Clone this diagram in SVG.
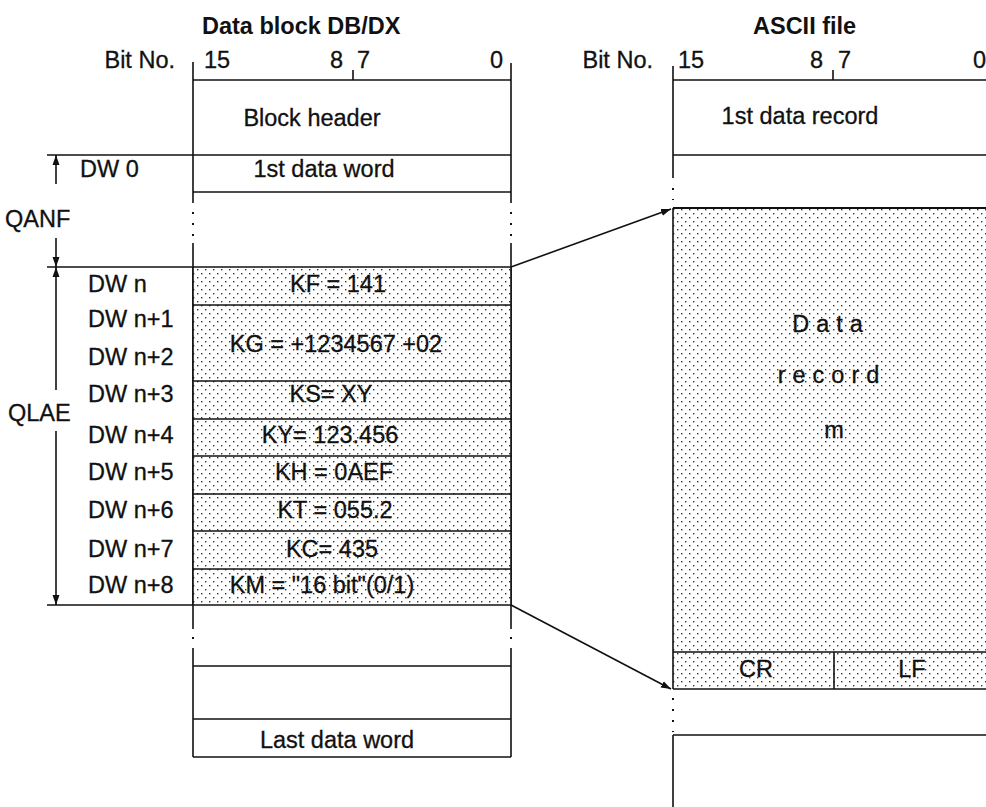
<svg xmlns="http://www.w3.org/2000/svg" width="986" height="807" viewBox="0 0 986 807">
<defs>
<pattern id="stip" width="8" height="8" patternUnits="userSpaceOnUse">
<rect width="8" height="8" fill="#fff"/>
<rect x="1" y="1" width="1.4" height="1.4" fill="#333"/>
<rect x="5" y="5" width="1.4" height="1.4" fill="#333"/>
</pattern>
<marker id="ah" viewBox="0 0 10 8" refX="10" refY="4" markerWidth="10" markerHeight="8" markerUnits="userSpaceOnUse" orient="auto">
<path d="M0,0.5 L10,4 L0,7.5 z" fill="#111"/>
</marker>
</defs>
<style>
text{font-family:"Liberation Sans",Arial,Helvetica,sans-serif;font-size:23.5px;fill:#111;stroke:#111;stroke-width:0.3px}
.t{font-weight:bold;stroke-width:0}
.c{text-anchor:middle}
.e{text-anchor:end}
.ln{stroke:#111;stroke-width:1.6;fill:none}
.bd{stroke:#111;stroke-width:2.2;fill:none}
.dt{stroke:#111;stroke-width:2;fill:none;stroke-dasharray:2 9}
.sp{letter-spacing:7px}
</style>

<g id="header-left">
<text class="t" x="202" y="34">Data block DB/DX</text>
<text class="e" x="175" y="68">Bit No.</text>
<text x="204" y="68">15</text>
<text class="e" x="343" y="68">8</text>
<text x="357" y="68">7</text>
<text class="e" x="503" y="68">0</text>
<line class="ln" x1="353" y1="70" x2="353" y2="80"/>
</g>

<g id="header-right">
<text class="t" x="753" y="34">ASCII file</text>
<text class="e" x="653" y="68">Bit No.</text>
<text x="678" y="68">15</text>
<text class="e" x="823" y="68">8</text>
<text x="838" y="68">7</text>
<text class="e" x="986" y="68">0</text>
<line class="ln" x1="833" y1="70" x2="833" y2="80"/>
</g>

<g id="left-frame">
<path class="ln" d="M193,62 V203 M193,243 V629 M193,648 V757 M511,63 V203 M511,243 V629 M511,648 V757"/>
<path class="dt" d="M193,212 V240 M511,212 V240 M193,637 V640 M511,637 V640"/>
</g>

<g id="block-header">
<line class="ln" x1="193" y1="80" x2="511" y2="80"/>
<text class="c" x="312" y="126">Block header</text>
</g>

<g id="dw0">
<line class="ln" x1="47" y1="155" x2="511" y2="155"/>
<line class="ln" x1="193" y1="192" x2="511" y2="192"/>
<text x="80" y="177">DW 0</text>
<text class="c" x="324" y="177">1st data word</text>
</g>

<g id="qlae-area">
<rect x="193" y="267" width="318" height="338" fill="url(#stip)"/>
<line class="ln" x1="47" y1="267" x2="511" y2="267"/>
<line class="ln" x1="193" y1="305" x2="511" y2="305"/>
<line class="ln" x1="193" y1="381" x2="511" y2="381"/>
<line class="ln" x1="193" y1="419" x2="511" y2="419"/>
<line class="ln" x1="193" y1="456" x2="511" y2="456"/>
<line class="ln" x1="193" y1="494" x2="511" y2="494"/>
<line class="ln" x1="193" y1="531" x2="511" y2="531"/>
<line class="ln" x1="193" y1="569" x2="511" y2="569"/>
<line class="ln" x1="47" y1="605" x2="511" y2="605"/>
<path class="ln" d="M193,267 V605 M511,267 V605"/>
</g>

<g id="dwn"><text x="88" y="292">DW n</text><text class="c" x="338" y="292">KF = 141</text></g>
<g id="dwn1"><text x="88" y="327">DW n+1</text><text x="88" y="365">DW n+2</text><text class="c" x="336" y="352">KG = +1234567 +02</text></g>
<g id="dwn3"><text x="88" y="402">DW n+3</text><text class="c" x="331" y="402">KS= XY</text></g>
<g id="dwn4"><text x="88" y="443">DW n+4</text><text class="c" x="330" y="443">KY= 123.456</text></g>
<g id="dwn5"><text x="88" y="480">DW n+5</text><text class="c" x="334" y="480">KH = 0AEF</text></g>
<g id="dwn6"><text x="88" y="518">DW n+6</text><text class="c" x="335" y="518">KT = 055.2</text></g>
<g id="dwn7"><text x="88" y="557">DW n+7</text><text class="c" x="332" y="557">KC= 435</text></g>
<g id="dwn8"><text x="88" y="593">DW n+8</text><text class="c" x="322" y="593">KM = "16 bit"(0/1)</text></g>

<g id="lower-left">
<line class="ln" x1="193" y1="666" x2="511" y2="666"/>
<line class="ln" x1="193" y1="719" x2="511" y2="719"/>
<line class="ln" x1="193" y1="757" x2="511" y2="757"/>
<text class="c" x="337" y="748">Last data word</text>
</g>

<g id="first-record">
<path class="ln" d="M673,66 V178 M673,80 H986 M673,155 H986"/>
<path class="dt" d="M673,188 V200"/>
<text class="c" x="800" y="124">1st data record</text>
</g>

<g id="data-record">
<rect x="673" y="208" width="313" height="481" fill="url(#stip)"/>
<line class="bd" x1="673" y1="208" x2="986" y2="208"/>
<path class="ln" d="M673,208 V689 M673,652 H986 M673,689 H986 M834,652 V689"/>
<text class="c sp" x="831" y="332">Data</text>
<text class="c sp" x="832" y="383">record</text>
<text class="c" x="834" y="438">m</text>
<text class="c" x="756" y="677">CR</text>
<text class="c" x="912" y="677">LF</text>
</g>

<g id="next-record">
<path class="dt" d="M673,698 V732"/>
<path class="ln" d="M673,735 H986 M673,735 V807"/>
</g>

<g id="dimensions">
<text x="5" y="227">QANF</text>
<text x="8" y="421">QLAE</text>
<line class="ln" x1="56" y1="184" x2="56" y2="155" marker-end="url(#ah)"/>
<line class="ln" x1="56" y1="238" x2="56" y2="267" marker-end="url(#ah)"/>
<line class="ln" x1="56" y1="390" x2="56" y2="267" marker-end="url(#ah)"/>
<line class="ln" x1="56" y1="431" x2="56" y2="605" marker-end="url(#ah)"/>
</g>

<g id="connectors">
<line class="ln" x1="511" y1="267" x2="671" y2="209" marker-end="url(#ah)"/>
<line class="ln" x1="511" y1="605" x2="671" y2="689" marker-end="url(#ah)"/>
</g>
</svg>
